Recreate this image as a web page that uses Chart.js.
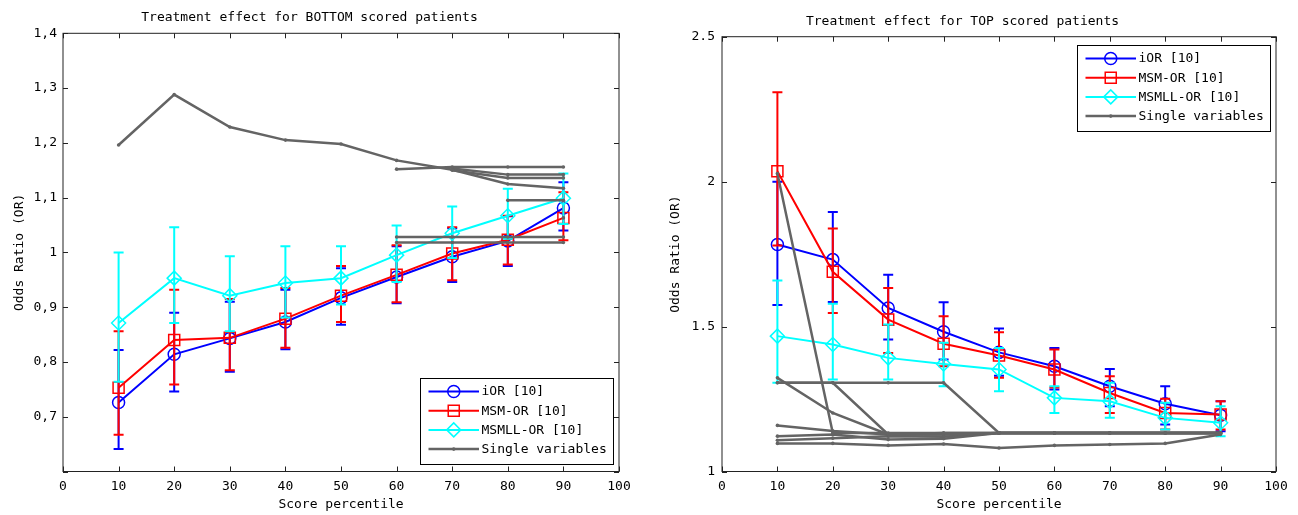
<!DOCTYPE html>
<html>
<head>
<meta charset="utf-8">
<script src="https://cdn.jsdelivr.net/npm/chart.js@4"></script>
<style>
html, body { margin: 0; padding: 0; background: #fff; }
#wrap { position: relative; width: 1298px; height: 515px; }
canvas { position: absolute; top: 0; }
#c1 { left: 0; }
#c2 { left: 649px; }
</style>
</head>
<body>
<div id="wrap">
  <canvas id="c1" width="649" height="515"></canvas>
  <canvas id="c2" width="649" height="515"></canvas>
</div>
<script>
const percentiles = [10, 20, 30, 40, 50, 60, 70, 80, 90];
const xTicks = [0, 10, 20, 30, 40, 50, 60, 70, 80, 90, 100];

// BOTTOM scored patients
const botIOR     = [0.726, 0.814, 0.843, 0.873, 0.917, 0.955, 0.992, 1.021, 1.081];
const botIORLo   = [0.641, 0.746, 0.782, 0.823, 0.868, 0.907, 0.946, 0.975, 1.040];
const botIORHi   = [0.822, 0.890, 0.910, 0.932, 0.971, 1.011, 1.044, 1.066, 1.128];
const botMSM     = [0.753, 0.840, 0.844, 0.879, 0.921, 0.959, 0.998, 1.023, 1.063];
const botMSMLo   = [0.667, 0.759, 0.785, 0.826, 0.873, 0.909, 0.949, 0.978, 1.022];
const botMSMHi   = [0.856, 0.932, 0.915, 0.935, 0.975, 1.013, 1.046, 1.067, 1.110];
const botMSMLL   = [0.871, 0.953, 0.921, 0.944, 0.953, 0.995, 1.035, 1.067, 1.099];
const botMSMLLLo = [0.764, 0.871, 0.856, 0.881, 0.905, 0.946, 0.990, 1.025, 1.052];
const botMSMLLHi = [1.000, 1.046, 0.993, 1.011, 1.011, 1.049, 1.084, 1.116, 1.144];
const botSingle = [
  [1.196, 1.288, 1.229, 1.205, 1.198, 1.168, 1.151, 1.125, 1.117],
  [null, null, null, null, null, 1.152, 1.156, 1.156, 1.156],
  [null, null, null, null, null, null, 1.153, 1.142, 1.142],
  [null, null, null, null, null, null, 1.150, 1.136, 1.136],
  [null, null, null, null, null, null, null, 1.095, 1.095],
  [null, null, null, null, null, 1.028, 1.028, 1.028, 1.028],
  [null, null, null, null, null, 1.018, 1.018, 1.018, 1.018],
  [null, null, null, null, null, null, null, null, 1.063]
];
const botYTicks = [0.6, 0.7, 0.8, 0.9, 1.0, 1.1, 1.2, 1.3, 1.4];

// TOP scored patients
const topIOR     = [1.783, 1.731, 1.564, 1.482, 1.411, 1.363, 1.294, 1.234, 1.194];
const topIORLo   = [1.574, 1.585, 1.455, 1.386, 1.330, 1.283, 1.225, 1.162, 1.139];
const topIORHi   = [2.000, 1.895, 1.679, 1.584, 1.493, 1.426, 1.354, 1.294, 1.242];
const topMSM     = [2.036, 1.689, 1.524, 1.441, 1.400, 1.352, 1.271, 1.202, 1.197];
const topMSMLo   = [1.780, 1.547, 1.409, 1.363, 1.323, 1.290, 1.202, 1.145, 1.145];
const topMSMHi   = [2.308, 1.838, 1.633, 1.536, 1.480, 1.421, 1.329, 1.251, 1.242];
const topMSMLL   = [1.467, 1.438, 1.392, 1.371, 1.352, 1.254, 1.242, 1.185, 1.168];
const topMSMLLLo = [1.306, 1.317, 1.317, 1.294, 1.277, 1.202, 1.185, 1.145, 1.122];
const topMSMLLHi = [1.659, 1.579, 1.507, 1.444, 1.426, 1.294, 1.306, 1.237, 1.225];
const topSingle = [
  [2.028, 1.133, 1.133, 1.133, 1.133, 1.133, 1.133, 1.133, 1.133],
  [1.323, 1.202, 1.128, 1.128, 1.133, 1.133, 1.133, 1.133, 1.133],
  [1.306, 1.306, 1.128, 1.133, 1.133, 1.133, 1.133, 1.133, 1.133],
  [1.306, 1.306, 1.306, 1.306, 1.133, 1.133, 1.133, 1.133, 1.133],
  [1.159, 1.140, 1.128, 1.128, 1.133, 1.133, 1.133, 1.133, 1.133],
  [1.122, 1.128, 1.110, 1.113, 1.133, 1.133, 1.133, 1.133, 1.133],
  [1.108, 1.115, 1.122, 1.120, 1.133, 1.133, 1.133, 1.133, 1.133],
  [1.097, 1.097, 1.090, 1.095, 1.081, 1.090, 1.093, 1.097, 1.128]
];
const topYTicks = [1, 1.5, 2, 2.5];

const legendLabels = ['iOR [10]', 'MSM-OR [10]', 'MSMLL-OR [10]', 'Single variables'];

const BLUE = '#0000ff', RED = '#ff0000', CYAN = '#00ffff', GRAY = '#646464';
const FONT = "'DejaVu Sans Mono', monospace";

Chart.defaults.font.family = FONT;
Chart.defaults.font.size = 13;
Chart.defaults.color = '#000';

function pts(vals) {
  return percentiles.map((p, i) => ({ x: p, y: vals[i] }));
}

function mainSet(label, vals, lo, hi, color, style, radius, order) {
  return {
    label, data: pts(vals), errLo: lo, errHi: hi,
    borderColor: color, borderWidth: 2,
    pointStyle: style, pointRadius: radius, pointBorderWidth: 1.5,
    pointBorderColor: color, pointBackgroundColor: 'rgba(0,0,0,0)',
    order
  };
}

function singleSets(rows) {
  return rows.map(r => ({
    label: 'Single variables', data: pts(r),
    borderColor: GRAY, borderWidth: 2.5,
    pointStyle: 'circle', pointRadius: 1.8, pointBorderWidth: 0,
    pointBorderColor: GRAY, pointBackgroundColor: GRAY, order: 0
  }));
}

// error bars drawn right after each series
const errorBars = {
  id: 'errorBars',
  afterDatasetDraw(chart, args) {
    const ds = chart.data.datasets[args.index];
    if (!ds.errLo) return;
    const ctx = chart.ctx, y = chart.scales.y;
    ctx.save();
    ctx.strokeStyle = ds.borderColor;
    ctx.lineWidth = 2;
    args.meta.data.forEach((pt, i) => {
      const y1 = y.getPixelForValue(ds.errLo[i]);
      const y2 = y.getPixelForValue(ds.errHi[i]);
      ctx.beginPath();
      ctx.moveTo(pt.x, y1); ctx.lineTo(pt.x, y2);
      ctx.moveTo(pt.x - 5, y1); ctx.lineTo(pt.x + 5, y1);
      ctx.moveTo(pt.x - 5, y2); ctx.lineTo(pt.x + 5, y2);
      ctx.stroke();
    });
    ctx.restore();
  }
};

// matlab style box with inward ticks, plus legend box
const frame = {
  id: 'frame',
  afterDraw(chart, args, opts) {
    const ctx = chart.ctx, a = chart.chartArea;
    const xs = chart.scales.x, ys = chart.scales.y;
    ctx.save();
    ctx.strokeStyle = '#222';
    ctx.lineWidth = 1;
    ctx.strokeRect(a.left, a.top, a.right - a.left, a.bottom - a.top);
    ctx.beginPath();
    xTicks.forEach(v => {
      const px = Math.round(xs.getPixelForValue(v)) + 0.5;
      ctx.moveTo(px, a.bottom); ctx.lineTo(px, a.bottom - 5);
      ctx.moveTo(px, a.top); ctx.lineTo(px, a.top + 5);
    });
    opts.yTicks.forEach(v => {
      const py = Math.round(ys.getPixelForValue(v)) + 0.5;
      ctx.moveTo(a.left, py); ctx.lineTo(a.left + 5, py);
      ctx.moveTo(a.right, py); ctx.lineTo(a.right - 5, py);
    });
    ctx.stroke();

    // legend
    const L = opts.legend;
    ctx.fillStyle = '#fff';
    ctx.fillRect(L.x, L.y, L.w, L.h);
    ctx.strokeStyle = '#000';
    ctx.strokeRect(L.x + 0.5, L.y + 0.5, L.w, L.h);
    const sets = chart.data.datasets;
    legendLabels.forEach((label, i) => {
      const ds = sets.find(d => d.label === label);
      const ry = L.y + 13.5 + i * 19.2;
      const x0 = L.x + 8.5, x1 = x0 + 50.5;
      ctx.strokeStyle = ds.borderColor;
      ctx.lineWidth = ds.borderWidth;
      ctx.beginPath(); ctx.moveTo(x0, ry); ctx.lineTo(x1, ry); ctx.stroke();
      ctx.strokeStyle = ds.pointBorderColor;
      ctx.fillStyle = ds.pointBackgroundColor;
      ctx.lineWidth = ds.pointBorderWidth;
      Chart.helpers.drawPoint(ctx, {
        pointStyle: ds.pointStyle, radius: ds.pointRadius, borderWidth: ds.pointBorderWidth
      }, (x0 + x1) / 2, ry);
      ctx.fillStyle = '#000';
      ctx.font = '13px ' + FONT;
      ctx.textBaseline = 'middle';
      ctx.textAlign = 'left';
      ctx.fillText(label, L.x + 61.5, ry + 0.5);
    });
    ctx.restore();
  }
};

function makeChart(id, cfg) {
  const datasets = [
    mainSet(legendLabels[0], cfg.ior, cfg.iorLo, cfg.iorHi, BLUE, 'circle', 6, 3),
    mainSet(legendLabels[1], cfg.msm, cfg.msmLo, cfg.msmHi, RED, 'rect', 7.8, 2),
    mainSet(legendLabels[2], cfg.msmll, cfg.msmllLo, cfg.msmllHi, CYAN, 'rectRot', 7, 1)
  ].concat(singleSets(cfg.single));

  return new Chart(document.getElementById(id), {
    type: 'line',
    data: { datasets },
    options: {
      responsive: false,
      animation: false,
      events: [],
      layout: { padding: { left: 0, right: cfg.padRight, top: 0, bottom: 0 } },
      plugins: {
        legend: { display: false },
        tooltip: { enabled: false },
        title: {
          display: true, text: cfg.title,
          font: { size: 13, weight: 'normal', lineHeight: 1.2 },
          padding: { top: cfg.titleTop, bottom: cfg.titleBottom }
        },
        frame: { yTicks: cfg.yTicks, legend: cfg.legend }
      },
      scales: {
        x: {
          type: 'linear', min: 0, max: 100,
          grid: { display: false, drawTicks: false },
          border: { display: false },
          ticks: { stepSize: 10, autoSkip: false, maxRotation: 0, padding: 7, color: '#000' },
          title: { display: true, text: 'Score percentile', padding: { top: 0, bottom: 2.2 } },
          afterFit(s) { s.height = 43.5; }
        },
        y: {
          type: 'linear', min: cfg.yMin, max: cfg.yMax,
          grid: { display: false, drawTicks: false },
          border: { display: false },
          ticks: { stepSize: cfg.yStep, autoSkip: false, padding: cfg.yPad, color: '#000', callback: cfg.yFmt },
          title: { display: true, text: 'Odds Ratio (OR)', padding: { top: cfg.yTitlePad, bottom: 0 } },
          afterFit(s) { s.width = cfg.yWidth; }
        }
      }
    },
    plugins: [errorBars, frame]
  });
}

makeChart('c1', {
  title: 'Treatment effect for BOTTOM scored patients',
  ior: botIOR, iorLo: botIORLo, iorHi: botIORHi,
  msm: botMSM, msmLo: botMSMLo, msmHi: botMSMHi,
  msmll: botMSMLL, msmllLo: botMSMLLLo, msmllHi: botMSMLLHi,
  single: botSingle,
  yMin: 0.6, yMax: 1.4, yStep: 0.1, yTicks: botYTicks,
  yFmt: v => (Math.abs(v - 0.6) < 1e-6 ? '' : String(Math.round(v * 10) / 10).replace('.', ',')),
  padRight: 30, titleTop: 10, titleBottom: 7.7, yWidth: 63, yPad: 6, yTitlePad: 12,
  legend: { x: 420, y: 378, w: 193, h: 86 }
});

makeChart('c2', {
  title: 'Treatment effect for TOP scored patients',
  ior: topIOR, iorLo: topIORLo, iorHi: topIORHi,
  msm: topMSM, msmLo: topMSMLo, msmHi: topMSMHi,
  msmll: topMSMLL, msmllLo: topMSMLLLo, msmllHi: topMSMLLHi,
  single: topSingle,
  yMin: 1, yMax: 2.5, yStep: 0.5, yTicks: topYTicks,
  yFmt: v => String(Math.round(v * 10) / 10),
  padRight: 22, titleTop: 13.4, titleBottom: 7.7, yWidth: 73, yPad: 7, yTitlePad: 19,
  legend: { x: 428, y: 45, w: 193, h: 86 }
});
</script>
</body>
</html>
